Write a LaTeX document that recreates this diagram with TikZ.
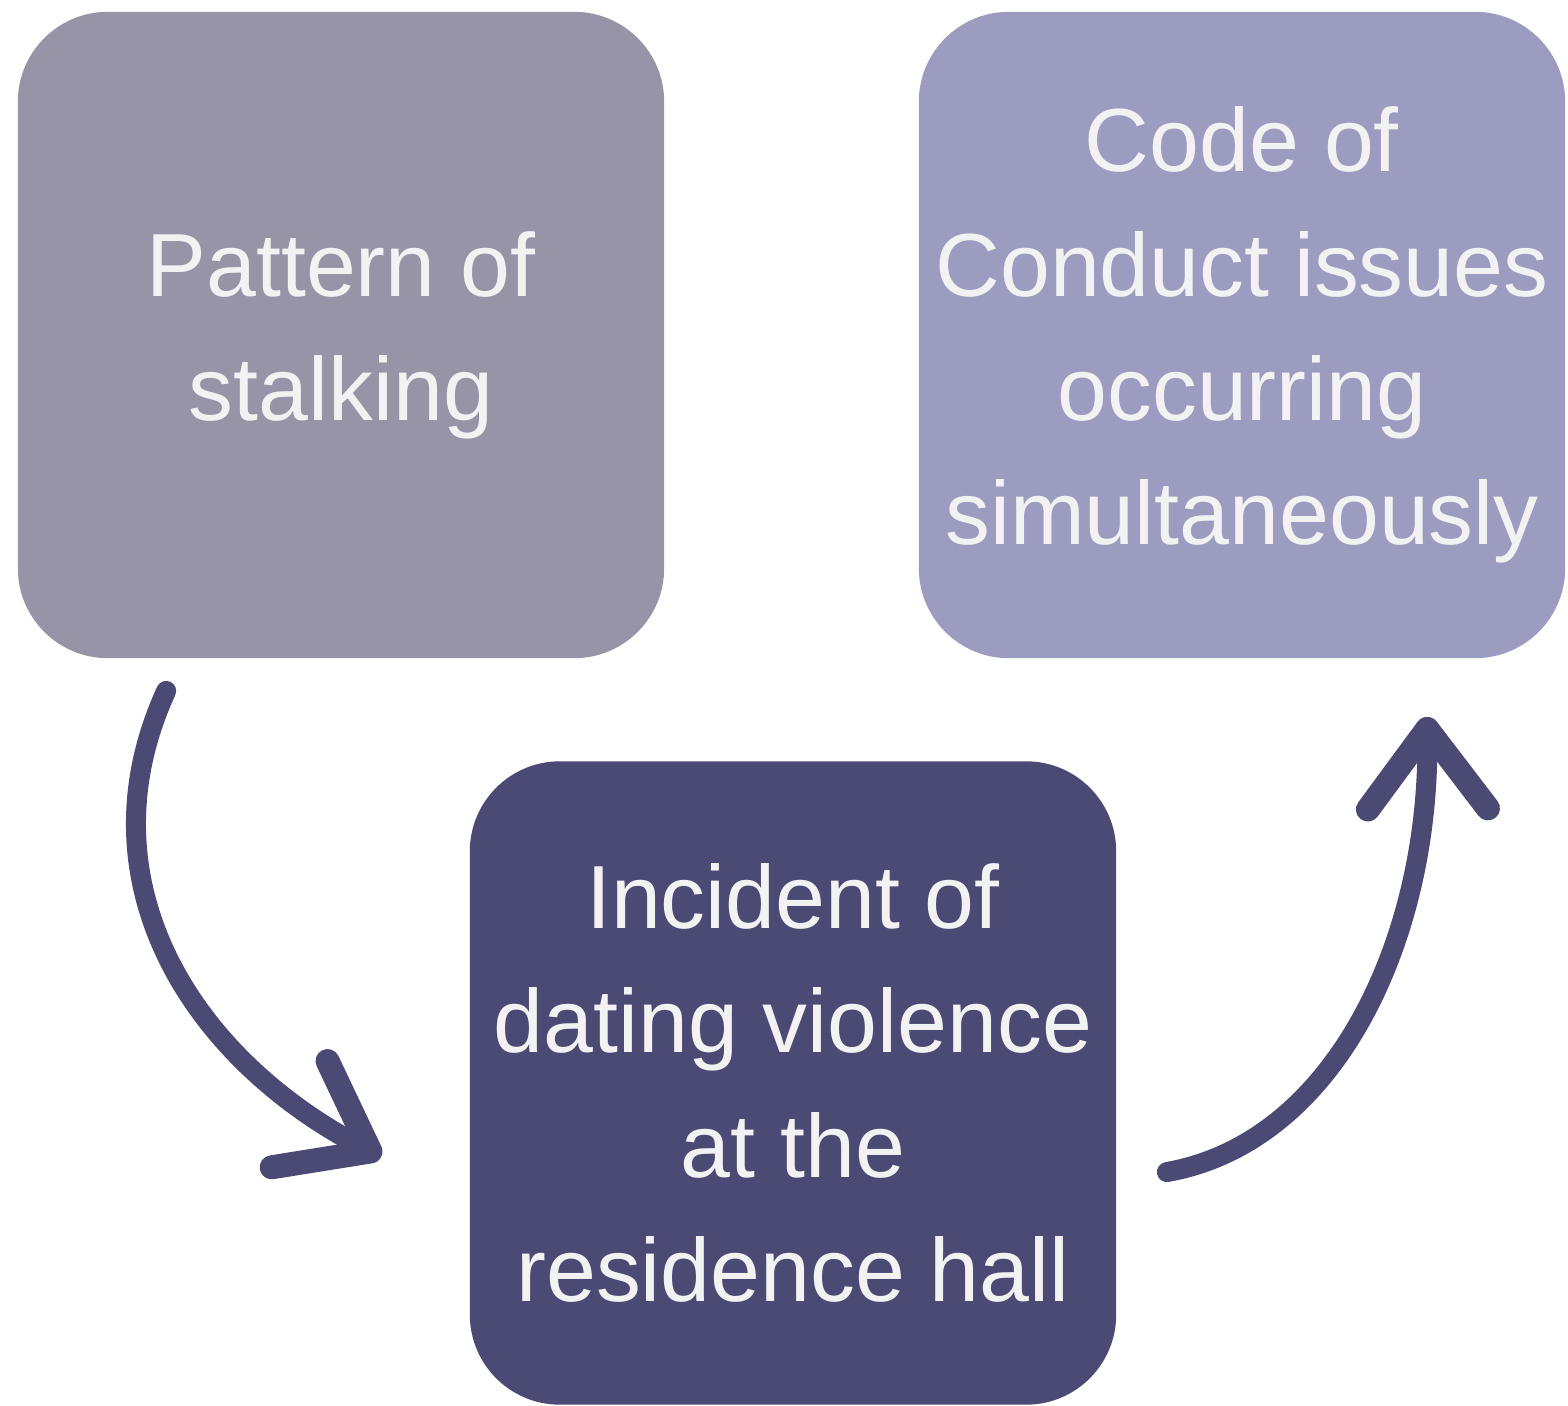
\documentclass[tikz,border=0pt]{standalone}
\usepackage{fontspec}
\setmainfont{Liberation Sans}
\usepackage{xcolor}
\usepackage{tikz}
\usetikzlibrary{positioning, arrows.meta}
\definecolor{sGrey}{HTML}{9794A7}
\definecolor{sLilac}{HTML}{9C9BC0}
\definecolor{sIndigo}{HTML}{4B4A74}
\definecolor{sPaper}{HTML}{F2F2F2}

\begin{document}
\begin{tikzpicture}[x=0.01cm, y=-0.01cm,
    card/.style={rounded corners=0.9cm, minimum width=6.46cm, minimum height=6.46cm,
      inner sep=0pt, text=sPaper, align=center, font=\fontsize{25.5}{35.3}\selectfont},
    swoop/.style={draw=sIndigo, line width=0.2cm, line cap=round,
      -{Straight Barb[length=0.8cm, width=1.2cm, line width=0.24cm 0, line cap=round, line join=round]}}]
  \useasboundingbox (0,0) rectangle (1568,1406);
  \node[card, fill=sGrey] (stalk) at (341,335) {Pattern of\\stalking};
  \node[card, fill=sLilac] (code) at (1242,335) {Code of\\Conduct issues\\occurring\\simultaneously};
  \node[card, fill=sIndigo, minimum height=6.43cm] (incident) at (793,1083)
    {Incident of\\dating violence\\at the\\residence hall};
  \coordinate[below right=0.32cm and 1.49cm of stalk.south west] (s1);
  \coordinate[below left=0.74cm and 0.88cm of incident.west] (e1);
  \coordinate[below right=0.89cm and 0.50cm of incident.east] (s2);
  \coordinate[below right=0.58cm and 1.85cm of code.south] (e2);
  \draw[swoop] (s1) .. controls +(-87,190) and +(-190,-100) .. (e1);
  \draw[swoop] (s2) .. controls +(170,-30) and +(2,220) .. (e2);
\end{tikzpicture}
\end{document}
